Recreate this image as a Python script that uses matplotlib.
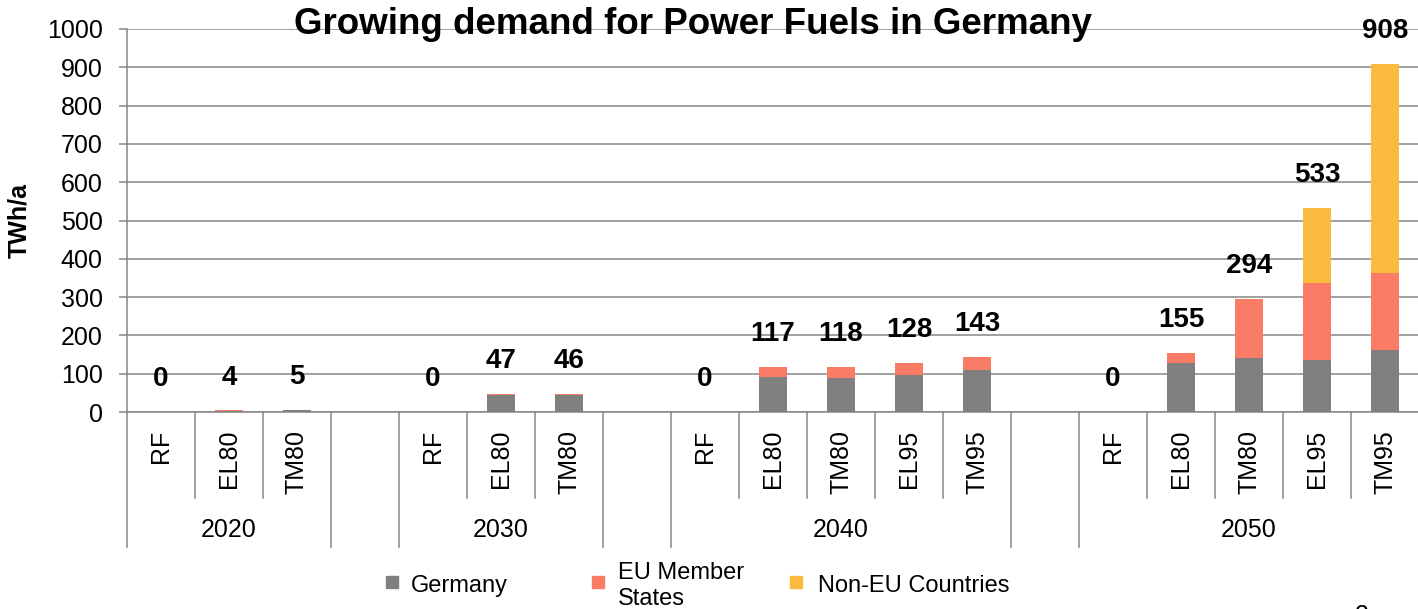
import matplotlib
matplotlib.use("Agg")
import matplotlib.pyplot as plt
import matplotlib.transforms as mtransforms
from matplotlib.patches import Rectangle

plt.rcParams['font.family'] = ['Liberation Sans', 'DejaVu Sans']

# ---------------- data ----------------
years = ['2020', '2030', '2040', '2050']
scenarios = [['RF', 'EL80', 'TM80'],
             ['RF', 'EL80', 'TM80'],
             ['RF', 'EL80', 'TM80', 'EL95', 'TM95'],
             ['RF', 'EL80', 'TM80', 'EL95', 'TM95']]
germany = [0, 3, 4, 0, 45, 45, 0, 91, 90, 96, 110, 0, 129, 140, 135, 163]
eu_member = [0, 1, 1, 0, 2, 1, 0, 26, 28, 32, 33, 0, 26, 154, 201, 199]
non_eu = [0, 0, 0, 0, 0, 0, 0, 0, 0, 0, 0, 0, 0, 0, 197, 546]
totals = [0, 4, 5, 0, 47, 46, 0, 117, 118, 128, 143, 0, 155, 294, 533, 908]
series_names = ['Germany', 'EU Member\nStates', 'Non-EU Countries']
colors = ['#808080', '#FA7B66', '#F9BA3D']
y_ticks = list(range(0, 1001, 100))

# ---------------- layout ----------------
W, H = 1418, 609
fig = plt.figure(figsize=(W / 100, H / 100), dpi=100)
ax_l, ax_r, ax_t, ax_b = 127, 1419, 29, 412
ax = fig.add_axes([ax_l / W, 1 - ax_b / H, (ax_r - ax_l) / W, (ax_b - ax_t) / H])

# slot positions (one empty slot between year groups)
xpos = []
group_bounds = []
labels = []
s = 0
for gi, sc in enumerate(scenarios):
    start = s
    for name in sc:
        xpos.append(s)
        labels.append(name)
        s += 1
    group_bounds.append((start - 0.5, s - 0.5))
    if gi < len(scenarios) - 1:
        s += 1
n_slots = s

bw = 0.4
bottom2 = [g + e for g, e in zip(germany, eu_member)]
ax.bar(xpos, germany, bw, color=colors[0], zorder=3, linewidth=0)
ax.bar(xpos, eu_member, bw, bottom=germany, color=colors[1], zorder=3, linewidth=0)
ax.bar(xpos, non_eu, bw, bottom=bottom2, color=colors[2], zorder=3, linewidth=0)

for x, t in zip(xpos, totals):
    ax.text(x, t + 86, str(t), ha='center', va='center', fontsize=20,
            fontweight='bold', color='black', zorder=5)

ax.set_xlim(-0.5, n_slots - 0.5)
ax.set_ylim(0, 1000)
ax.set_yticks(y_ticks)
ax.yaxis.grid(True, color='#868686', linewidth=1.1, zorder=0)
ax.set_axisbelow(True)
ax.tick_params(axis='y', labelsize=18, length=6, width=1.1, color='#868686', pad=11.5)
ax.tick_params(axis='x', bottom=False, labelbottom=False)
for side in ['top', 'right']:
    ax.spines[side].set_visible(False)
for side in ['left', 'bottom']:
    ax.spines[side].set_color('#868686')
    ax.spines[side].set_linewidth(1.1)

ax.set_ylabel('TWh/a', fontsize=18, fontweight='bold')
ax.yaxis.set_label_coords((31 - ax_l) / (ax_r - ax_l), 0.5)

# multi-level category axis
trans = mtransforms.blended_transform_factory(ax.transData, ax.transAxes)
ah = ax_b - ax_t
inner_bot = -(498 - ax_b) / ah
outer_bot = -(547 - ax_b) / ah
lab_top = -(430 - ax_b) / ah
year_y = -(530 - ax_b) / ah
line_kw = dict(color='#868686', linewidth=1.1, transform=trans, clip_on=False)

for x, name in zip(xpos, labels):
    ax.text(x, lab_top, name, rotation=90, ha='center', va='top', fontsize=18,
            transform=trans)

edges_full = set()
for (a, b) in group_bounds:
    edges_full.add(a)
    edges_full.add(b)
for (a, b), yr in zip(group_bounds, years):
    k = a + 1
    while k < b:
        ax.plot([k, k], [0, inner_bot], **line_kw)
        k += 1
    ax.text((a + b) / 2, year_y, yr, ha='center', va='center', fontsize=18,
            transform=trans)
for e in sorted(edges_full):
    ax.plot([e, e], [0, outer_bot], **line_kw)

# title
fig.text(693 / W, 1 - 25 / H, 'Growing demand for Power Fuels in Germany',
         ha='center', va='center', fontsize=26.5, fontweight='bold')

# legend (manual)
sq_x = [386, 592, 790]
tx_x = [411, 618, 818]
ly = 582
for c, name, sx, tx in zip(colors, series_names, sq_x, tx_x):
    fig.patches.append(Rectangle((sx / W, 1 - (ly + 6) / H), 12 / W, 12 / H,
                                 transform=fig.transFigure, color=c))
    fig.text(tx / W, 1 - (ly + 4) / H, name, ha='left', va='center',
             fontsize=17, linespacing=1.2)

# page number (mostly cut off at the bottom edge)
fig.text(1362 / W, -0.012, '2', ha='center', va='center', fontsize=18)

fig.savefig('out.png', dpi=100)
